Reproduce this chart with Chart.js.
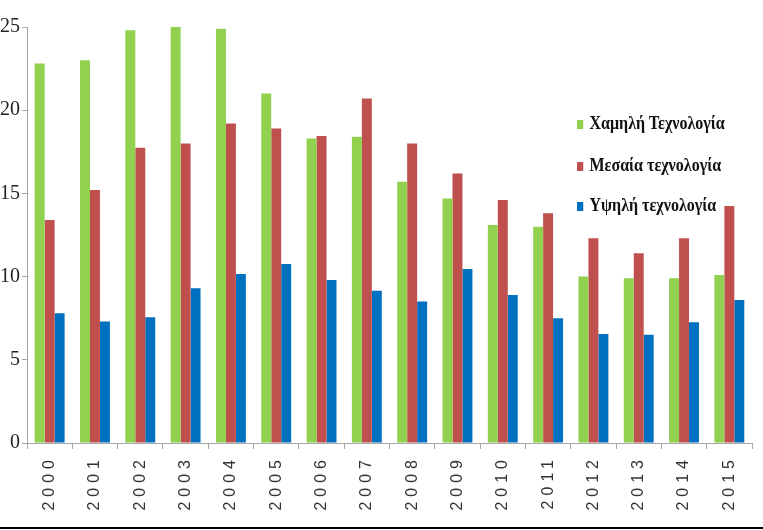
<!DOCTYPE html>
<html>
<head>
<meta charset="utf-8">
<script src="https://cdn.jsdelivr.net/npm/chart.js@4"></script>
<style>
  html, body { margin: 0; padding: 0; background: #fff; }
  #wrap { position: relative; width: 763px; height: 530px; }
  #bottomLine { position: absolute; left: 0; top: 527px; width: 763px; height: 2px; background: #000; }
  #legend { position: absolute; left: 577px; top: 110px; font-family: "Liberation Serif", serif; font-weight: bold; font-size: 18px; color: #111; }
  #legend .item { position: absolute; left: 0; white-space: nowrap; line-height: 22px; transform: scaleX(0.89); transform-origin: 0 50%; }
  #legend .box { display: inline-block; width: 7px; height: 9px; margin-right: 7px; vertical-align: 0px; }
</style>
</head>
<body>
<div id="wrap">
  <canvas id="chart" width="763" height="530"></canvas>
  <div id="legend"></div>
  <div id="bottomLine"></div>
</div>
<script>
const years = ['2000','2001','2002','2003','2004','2005','2006','2007','2008','2009','2010','2011','2012','2013','2014','2015'];
const lowTech = [22.8, 23.0, 24.8, 25.0, 24.9, 21.0, 18.3, 18.4, 15.7, 14.7, 13.1, 13.0, 10.0, 9.9, 9.9, 10.1];
const midTech = [13.4, 15.2, 17.75, 18.0, 19.2, 18.9, 18.45, 20.7, 18.0, 16.2, 14.6, 13.8, 12.3, 11.4, 12.3, 14.25];
const highTech = [7.8, 7.3, 7.55, 9.3, 10.15, 10.75, 9.8, 9.15, 8.5, 10.45, 8.9, 7.5, 6.55, 6.5, 7.25, 8.6];
const seriesNames = ['Χαμηλή Τεχνολογία', 'Μεσαία τεχνολογία', 'Υψηλή τεχνολογία'];
const seriesColors = ['#92D050', '#C0504D', '#0070C0'];
const yTicks = [0, 5, 10, 15, 20, 25];

// x labels are letter-spaced, y labels are not:
// x tick labels draw before the datasets (z 0), y tick labels after (z 1)
const spacingPlugin = {
  id: 'spacing',
  beforeDraw(chart) { chart.ctx.letterSpacing = '5px'; },
  beforeDatasetsDraw(chart) { chart.ctx.letterSpacing = '0px'; }
};

const ctx = document.getElementById('chart').getContext('2d');
const chart = new Chart(ctx, {
  type: 'bar',
  data: {
    labels: years,
    datasets: [lowTech, midTech, highTech].map((d, i) => ({
      label: seriesNames[i],
      data: d,
      backgroundColor: seriesColors[i],
      categoryPercentage: 0.66,
      barPercentage: 1.0
    }))
  },
  options: {
    responsive: false,
    animation: false,
    layout: { padding: { top: 27, right: 11, left: 0, bottom: 0 } },
    plugins: { legend: { display: false }, tooltip: { enabled: false } },
    scales: {
      x: {
        grid: { offset: true, drawOnChartArea: false, tickLength: 6, color: '#a6a6a6' },
        border: { color: '#a6a6a6' },
        ticks: {
          maxRotation: 90, minRotation: 90, padding: 6,
          color: '#333',
          font: { family: 'Liberation Sans', size: 16 }
        },
        afterFit(s) { s.height = 87; }
      },
      y: {
        min: 0, max: 25,
        afterBuildTicks(s) { s.ticks = yTicks.map(v => ({ value: v })); },
        grid: { drawOnChartArea: false, tickLength: 5, color: '#a6a6a6' },
        border: { color: '#a6a6a6' },
        ticks: {
          z: 1, padding: 2, color: '#222',
          font: { family: 'Liberation Serif', size: 20 }
        },
        afterFit(s) { s.width = 27; }
      }
    }
  },
  plugins: [spacingPlugin]
});

// legend built from the dataset names/colours
const legend = document.getElementById('legend');
const legendTops = [2, 44, 84];
chart.data.datasets.forEach((ds, i) => {
  const item = document.createElement('div');
  item.className = 'item';
  item.style.top = legendTops[i] + 'px';
  item.innerHTML = '<span class="box" style="background:' + ds.backgroundColor + '"></span>' + ds.label;
  legend.appendChild(item);
});
</script>
</body>
</html>
